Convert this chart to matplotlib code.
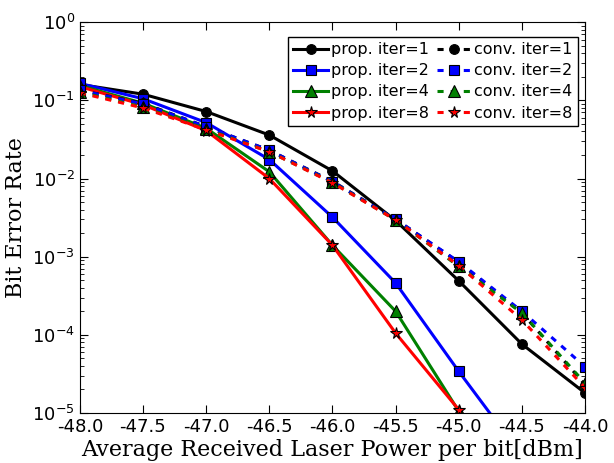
import numpy as np
import matplotlib.pyplot as plt
from matplotlib.ticker import LogLocator, FixedLocator

# 横轴: 平均接收光功率 (dBm)
power = [-48.0, -47.5, -47.0, -46.5, -46.0, -45.5, -45.0, -44.5, -44.0]

# 提出方案
prop_iter1 = [0.16, 0.12, 0.072, 0.036, 0.0125, 0.0029, 4.9e-4, 7.6e-5, 1.8e-5]
prop_iter2 = [0.165, 0.105, 0.052, 0.0175, 3.2e-3, 4.6e-4, 3.4e-5, 2.8e-6]
prop_iter4 = [0.155, 0.092, 0.044, 0.0122, 1.4e-3, 2.0e-4, 1.05e-5]
prop_iter8 = [0.15, 0.088, 0.041, 0.0100, 1.4e-3, 1.05e-4, 1.1e-5]

# 传统方案
conv_iter1 = [0.135, 0.092, 0.046, 0.023, 0.0092, 3.0e-3, 8.5e-4, 1.9e-4, 2.3e-5]
conv_iter2 = [0.135, 0.090, 0.046, 0.023, 0.0091, 3.0e-3, 8.6e-4, 2.0e-4, 3.9e-5]
conv_iter4 = [0.128, 0.082, 0.043, 0.022, 0.0089, 2.95e-3, 7.5e-4, 1.9e-4, 2.4e-5]
conv_iter8 = [0.125, 0.080, 0.042, 0.022, 0.0088, 2.95e-3, 7.7e-4, 1.55e-4, 2.1e-5]

labels_prop = ['prop. iter=1', 'prop. iter=2', 'prop. iter=4', 'prop. iter=8']
labels_conv = ['conv. iter=1', 'conv. iter=2', 'conv. iter=4', 'conv. iter=8']
colors = ['black', 'blue', 'green', 'red']
markers = ['o', 's', '^', '*']
msizes = [7, 7, 8, 8.5]

fig = plt.figure(figsize=(6.14, 4.63), dpi=100)
ax = fig.add_axes([0.130, 0.108, 0.823, 0.844])

prop = [prop_iter1, prop_iter2, prop_iter4, prop_iter8]
conv = [conv_iter1, conv_iter2, conv_iter4, conv_iter8]

handles = []
for i in range(4):
    y = prop[i]
    h, = ax.semilogy(power[:len(y)], y, color=colors[i], lw=2.2, marker=markers[i],
                     ms=msizes[i], mfc=colors[i], mec='black', mew=0.8, label=labels_prop[i])
    handles.append(h)
for i in range(4):
    y = conv[i]
    h, = ax.semilogy(power[:len(y)], y, color=colors[i], lw=2.2, ls='--', dashes=(2, 2.3),
                     marker=markers[i], ms=msizes[i], mfc=colors[i], mec='black', mew=0.8,
                     label=labels_conv[i])
    handles.append(h)

ax.set_xlim(-48, -44)
ax.set_ylim(1e-5, 1)
ax.xaxis.set_major_locator(FixedLocator(np.arange(-48, -43.9, 0.5)))
ax.set_xticklabels(['%.1f' % v for v in np.arange(-48, -43.9, 0.5)])
ax.yaxis.set_major_locator(LogLocator(base=10, numticks=10))
ax.yaxis.set_minor_locator(LogLocator(base=10, subs=np.arange(2, 10), numticks=20))
ax.tick_params(which='both', direction='in', top=True, right=True, labelsize=13)
ax.tick_params(which='major', length=6)
ax.tick_params(which='minor', length=3)

ax.set_xlabel('Average Received Laser Power per bit[dBm]', family='DejaVu Serif', fontsize=16,
              labelpad=2)
ax.set_ylabel('Bit Error Rate', family='DejaVu Serif', fontsize=16)

leg = ax.legend(handles=handles, ncol=2, loc='upper right', bbox_to_anchor=(0.9855, 0.9616),
                fontsize=11.5, fancybox=False, edgecolor='black', handlelength=2.2,
                columnspacing=0.5, handletextpad=0.15, borderpad=0.32, borderaxespad=0,
                labelspacing=0.38, numpoints=1, framealpha=1)
leg.get_frame().set_linewidth(1.0)

fig.savefig('out.png', dpi=100)
